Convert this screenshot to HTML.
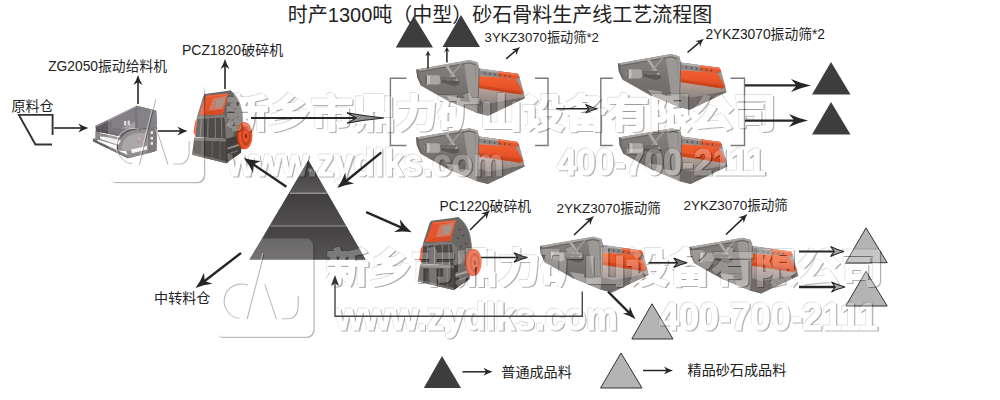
<!DOCTYPE html>
<html><head><meta charset="utf-8"><title>flow</title>
<style>html,body{margin:0;padding:0;background:#fff;font-family:"Liberation Sans",sans-serif}svg{display:block}</style>
</head><body>
<svg width="1000" height="400" viewBox="0 0 1000 400">
<rect width="1000" height="400" fill="#fff"/>
<defs>
<linearGradient id="gSide" x1="0" y1="0" x2="0" y2="1">
  <stop offset="0" stop-color="#878380"/><stop offset="0.5" stop-color="#777370"/><stop offset="1" stop-color="#66625f"/>
</linearGradient>
<linearGradient id="gOr" x1="0" y1="0" x2="0" y2="1">
  <stop offset="0" stop-color="#f2612f"/><stop offset="0.6" stop-color="#e85328"/><stop offset="1" stop-color="#d0461f"/>
</linearGradient>
<linearGradient id="gFront" x1="0" y1="0" x2="0" y2="1">
  <stop offset="0" stop-color="#a9a19e"/><stop offset="1" stop-color="#7f7976"/>
</linearGradient>
<linearGradient id="gDeck" x1="0" y1="0" x2="0" y2="1"><stop offset="0" stop-color="#bfa196"/><stop offset="0.5" stop-color="#a2938d"/><stop offset="1" stop-color="#8d8582"/></linearGradient>
<g id="screen">
  <!-- side face -->
  <polygon points="0,0 53.4,-9.3 61.3,-7 63,-0.9 62.6,20 61.3,43.7 34.1,32.4 4.4,15.7 0.9,7.9" fill="url(#gSide)"/>
  <!-- front face -->
  <polygon points="63,-0.9 101.5,4.4 103.3,7.9 107.6,23.6 108.5,28.9 71.8,46.4 61.3,43.7 62.6,20" fill="url(#gFront)"/>
  <!-- lower foot on side -->
  <polygon points="30,26 44,28 44,31.5 52,32.5 62,33 61.3,43.7 34.1,32.4" fill="#a29e9b"/>
  <polygon points="61.3,43.7 71.8,46.4 73,34 62,31" fill="#6f6a67"/>
  <!-- grid below deck -->
  <polygon points="73,34 108.3,27.5 108.5,28.9 71.8,46.4" fill="#746e6b"/>
  <g stroke="#6b6664" stroke-width="0.7">
    <line x1="80" y1="28" x2="80" y2="42"/><line x1="88" y1="27" x2="88" y2="38.5"/><line x1="96" y1="27" x2="96" y2="34.7"/><line x1="103" y1="27" x2="103" y2="31.4"/>
  </g>
  <!-- deck light -->
  <polygon points="62.3,18.7 104.2,25 108.3,27.5 73,34 62,31" fill="url(#gDeck)"/>
  <!-- orange chute -->
  <polygon points="60.5,6.6 99.3,9.3 107.3,23.3 104.2,25.2 62.1,18.7" fill="url(#gOr)"/>
  <polygon points="62.1,15.6 103,22 104.2,25.2 62.1,18.7" fill="#c2411d" opacity="0.7"/>
  <!-- top rail of front -->
  <polygon points="63,-0.9 101.5,4.4 103.3,7.9 102.2,10 63,5.6" fill="#8a8685"/>
  <polygon points="63,-0.9 101.5,4.4 102.2,6 63,1" fill="#b4b1af"/>
  <polygon points="82,2 101.5,4.4 103.3,7.9 99.5,9.6 82,7.6" fill="#e5562b"/><polygon points="82,2 101.5,4.4 102.2,6 82,3.5" fill="#f27a52"/>
  <g fill="#55514f"><rect x="68" y="3" width="1.2" height="2.2"/><rect x="73" y="3.6" width="1.2" height="2.2"/><rect x="78" y="4.2" width="1.2" height="2.2"/><rect x="83" y="4.8" width="1.2" height="2.2"/><rect x="88" y="5.4" width="1.2" height="2.2"/><rect x="93" y="6" width="1.2" height="2.2"/></g>
  <!-- corner post -->
  <polygon points="47.5,-8.3 58.5,-7.8 61.5,43.7 54.5,40.8" fill="#a19d9a" opacity="0.85"/>
  <polygon points="58.5,-7.8 61.3,-7 63,-0.9 62.6,20 61.3,43.7 58.8,43 59.5,20 59.6,0" fill="#9b9794"/>
  <line x1="63" y1="-0.9" x2="61.3" y2="43.7" stroke="#5f5b59" stroke-width="0.8"/>
  <!-- top rail side -->
  <polygon points="0,0 53.4,-9.3 61.3,-7 61.3,-5 53.4,-7.2 0.4,2.2" fill="#a9a6a4"/>
  <polygon points="0.4,2.2 53.4,-7.2 59.5,-5.5 59.5,-4 53.4,-5.8 0.6,3.6" fill="#6e6a68"/>
  <!-- diagonal brace -->
  <polygon points="29,-3.5 32,-4 43,13 40.5,13.5" fill="#aeaaa7"/>
  <polygon points="44,-6 46.5,-6.5 30,14 27.5,13.5" fill="#a29e9b" opacity="0.8"/>
  <!-- motor -->
  <rect x="8.7" y="5.8" width="15.5" height="9.4" rx="3" fill="#a9a6a4"/>
  <rect x="8.7" y="5.8" width="5" height="9.4" rx="2.4" fill="#c4c2c0"/>
  <rect x="8.7" y="5.8" width="2" height="9.4" rx="1" fill="#6b6765"/>
  <rect x="24" y="7.6" width="16" height="2.6" fill="#6f6b69"/>
  <polygon points="25,10.5 43,11.5 43,15 38,16.5 25,13" fill="#5c5856"/>
  <!-- left end -->
  <polygon points="0,0 0.9,7.9 4.4,15.7 6,15 3,7.5 2.4,0.5" fill="#6a6664"/>
  <line x1="4.4" y1="15.7" x2="34.1" y2="32.4" stroke="#65615f" stroke-width="0.8"/>
</g>

<linearGradient id="gCr" x1="0" y1="0" x2="1" y2="0">
  <stop offset="0" stop-color="#6a6664"/><stop offset="0.6" stop-color="#5a5654"/><stop offset="1" stop-color="#4a4644"/>
</linearGradient>
<g id="crusher">
  <!-- housing (right, rounded) -->
  <path d="M22,-2.6 L27,-3.4 C33,1 37.5,8 39.2,18 C40.2,24 40.4,30 40.4,42.7 L38.2,58.4 L22.5,69.2 L20.9,21.3 Z" fill="#5a5654"/>
  <path d="M24.5,0 L27,-3.4 C33,1 37.5,8 39.2,18 C40.2,24 40.4,30 40.4,36 L30,40 L24,36 L20.9,21.3 Z" fill="#6a6664"/>
  <path d="M27,-3.4 C33,1 37.5,8 39.2,18 C40.2,24 40.4,30 40.4,36" fill="none" stroke="#8a8684" stroke-width="0.8"/>
  <g fill="#4e4a48"><rect x="27" y="8" width="2" height="1.6"/><rect x="31" y="14" width="2.2" height="1.6"/><rect x="26" y="17" width="1.8" height="1.6"/><rect x="33.5" y="22" width="2" height="1.8"/><rect x="28.5" y="25" width="2.2" height="1.8"/><rect x="24.5" y="29" width="2" height="1.6"/><rect x="33" y="31" width="2" height="1.8"/></g>
  <!-- hopper outer -->
  <polygon points="0,0 27,-3.4 27.6,-1.5 20.9,21.3 -8.3,22.9 -1.6,2" fill="#6b6765"/>
  <!-- hopper interior -->
  <polygon points="1.1,1.8 24.7,-0.4 19.1,20.2 -6.1,21.3" fill="#e6542b"/>
  <polygon points="8.5,4.2 23.6,1.2 18.6,15.2 4.5,16.8" fill="#cf7a63"/>
  <polygon points="12,6 21.5,4 18.5,12.5 11.5,13.5" fill="#a8948c"/>
  <polygon points="4.5,16.8 18.6,15.2 19.1,20.2 -6.1,21.3" fill="#d94c25"/>
  <polygon points="1.1,1.8 24.7,-0.4 24.3,1 1.5,3" fill="#f06a3e"/>
  <!-- body under hopper -->
  <polygon points="-8.3,22.9 20.9,21.3 22.5,44.9 -10.1,43.1" fill="#4f4b49"/>
  <polygon points="-8.3,22.9 20.9,21.3 21,23.6 -8.5,25.2" fill="#7d7977"/>
  <g stroke="#807c7a" stroke-width="1.1"><line x1="-3.5" y1="25" x2="-5" y2="43.4"/><line x1="3.5" y1="24.6" x2="3" y2="43.8"/><line x1="11" y1="24.2" x2="11.3" y2="44.2"/><line x1="17.5" y1="23.8" x2="18.2" y2="44.6"/></g>
  <polygon points="20.9,21.3 22.5,44.9 28,46.5 31,40 25.5,26" fill="#7a7674"/>
  <polygon points="-10.4,28 -8.5,24.5 -9.4,42.5 -12,38.5" fill="#e5532a"/>
  <!-- base -->
  <polygon points="-11.2,43.8 22.5,44.9 38.2,41 38.2,58.4 22.5,69.2 -13.5,60.7" fill="#4e4a48"/>
  <polygon points="-11.2,43.8 22.5,44.9 22.6,47.6 -11.5,46.4" fill="#7e7a78"/>
  <polygon points="22.5,44.9 38.2,41 38.2,58.4 22.5,69.2" fill="#423e3c"/>
  <polygon points="24,53.5 37,49.6 37,51.8 24,55.7" fill="#8c8785"/>
  <polygon points="24,59.5 35,55.8 35,57.5 24,61.2" fill="#6f6a68"/>
  <polygon points="-13.5,60.7 22.5,69.2 22.5,67.2 -13.3,58.8" fill="#716d6b"/>
  <g stroke="#6e6a68" stroke-width="0.9"><line x1="-2" y1="47" x2="-3.5" y2="62.5"/><line x1="8" y1="47.2" x2="7.5" y2="65"/><line x1="16" y1="47.4" x2="16" y2="67"/></g>
  <!-- wheel -->
  <ellipse cx="41.2" cy="41.6" rx="7.6" ry="13.6" fill="#b4391a"/>
  <ellipse cx="43" cy="41.6" rx="7.4" ry="13.3" fill="#e9562c"/>
  <ellipse cx="43.3" cy="41.8" rx="5" ry="9.8" fill="#c7401e"/>
  <ellipse cx="43.5" cy="41.9" rx="3.3" ry="6.6" fill="#e9562c"/>
  <ellipse cx="43.6" cy="42" rx="1.3" ry="2.5" fill="#8f2e16"/>
  <g stroke="#b4391a" stroke-width="0.8"><line x1="43.5" y1="32" x2="43.5" y2="35.5"/><line x1="43.5" y1="48.3" x2="43.5" y2="51.6"/><line x1="38.6" y1="41.9" x2="40.3" y2="41.9"/><line x1="46.7" y1="41.9" x2="48.2" y2="41.9"/></g>
</g>

<g id="feeder">
  <!-- frame base -->
  <polygon points="92.9,138.5 97.5,138.5 97.5,141 128,155 154.8,148.6 154.8,151.4 127.8,158.3 92.9,141.3" fill="#7a7576"/>
  <polygon points="92.9,139.8 127.8,156.6 154.8,149.8 154.8,151.4 127.8,158.3 92.9,141.3" fill="#5f5a5b"/>
  <!-- right column -->
  <polygon points="147.3,127 157,125.5 156.8,150.8 147.3,153.2" fill="#625d60"/>
  <rect x="150.6" y="131.2" width="2.4" height="2.8" fill="#e2e0e1"/><rect x="150.6" y="136.8" width="2.4" height="2.8" fill="#e2e0e1"/><rect x="150.6" y="142" width="2.4" height="2.8" fill="#e2e0e1"/>
  <!-- left leg -->
  <polygon points="95.3,130.5 100.2,131.2 100.2,140.5 95.3,139" fill="#8b8788"/>
  <polygon points="100.2,138.6 119,144.6 119,146.2 100.2,140.3" fill="#8b8788"/>
  <!-- arch / motor guard -->
  <path d="M117.2,149.5 C117.5,138.5 124,130.8 135,129.3 L147.3,128.4 L147.3,153.2 L128.5,157.2 L126,151 L118,150.5 Z" fill="#7b7678"/>
  <path d="M121.5,149 C122,140.5 127.5,134.5 136.5,133.5 L146,133 L146,147 L131,151 L125,150.5 Z" fill="#999496"/>
  <path d="M117.2,149.5 C117.5,138.5 124,130.8 135,129.3 L147.3,128.4" fill="none" stroke="#3f3b3d" stroke-width="1.3"/>
  <rect x="136.5" y="135.5" width="5.2" height="8.5" fill="#9a8c8e"/>
  <rect x="137.8" y="137" width="2.6" height="3" fill="#b7a3a3"/>
  <polygon points="131,149.6 147,146 147,149.6 132,153.2" fill="#f4f3f3"/>
  <polygon points="101.5,139.6 118.6,144.8 121,140.5 106,137" fill="#f1f0f0"/><polygon points="100.2,133 120,137.5 121,140.5 106,137 100.2,136.5" fill="#8e8a8c"/>
  <!-- trough body -->
  <polygon points="95.3,126 136.7,105.7 156.2,110.6 157,125 148.7,127.6 130,130 120.5,136.5 96.1,131.2" fill="#5d5960"/>
  <polygon points="136.7,105.7 156.2,110.6 157,125 148.7,127.6 137,129" fill="#6a666e"/>
  <polygon points="95.3,126 136.7,105.7 138.5,106.3 97.2,126.8" fill="#8c888d"/>
  <polygon points="96.1,128.4 120,134 120.5,136.5 96.1,131.2" fill="#55515a"/>
  <polygon points="112,120 134.5,109.5 135,121.5 121,128.5 112,128" fill="#69656c"/>
  <polygon points="121,128.5 135,121.5 135,129" fill="#908c90"/>
  <rect x="124" y="121" width="2.3" height="4.5" fill="#d2d0d2"/><rect x="127.6" y="120.6" width="2.3" height="4.5" fill="#d2d0d2"/>
  <line x1="136.7" y1="105.7" x2="137" y2="129" stroke="#57535a" stroke-width="0.8"/>
</g>

<filter id="wblur" x="-5%" y="-5%" width="110%" height="110%"><feGaussianBlur stdDeviation="0.4"/></filter>
<g id="lgl" fill="none" stroke-linecap="round"><path d="M247.5 285 A17.3 17.3 0 1 0 238.8 318.3"/><path d="M263.8 254.4 L247.2 318.7"/><path d="M264.8 284.7 L276.2 318.7"/><path d="M298.1 296 V306 Q298.1 318.7 287 318.7 H282"/></g>
<rect id="lgb" x="214.7" y="238.6" width="98.7" height="98.1" rx="7.5" ry="7.5"/>
<mask id="lgmask" maskUnits="userSpaceOnUse" x="200" y="220" width="140" height="140"><rect x="200" y="220" width="140" height="140" fill="#fff"/><use href="#lgb" fill="#000"/></mask>
<g id="logo"><g mask="url(#lgmask)"><use href="#lgb" transform="translate(1.3 1.3)" fill="#000" fill-opacity="0.27"/></g><use href="#lgb" fill="#fff" fill-opacity="0.18"/><use href="#lgl" stroke="#000" stroke-opacity="0.3" stroke-width="1.1"/><use href="#lgl" stroke="#fff" stroke-opacity="0.45" stroke-width="1.2" transform="translate(-1.1 -0.7)"/></g>
<g id="wsA" fill="currentColor" stroke="currentColor" stroke-linejoin="round" font-weight="bold" font-family="&quot;Liberation Sans&quot;, &quot;Noto Sans CJK SC&quot;, sans-serif"><text x="226.1" y="126.6" font-size="38.1" stroke-width="1.8" textLength="550" lengthAdjust="spacingAndGlyphs">新乡市鼎力矿山设备有限公司</text><text x="227.6" y="175.6" font-size="38" stroke-width="1.1" textLength="276" lengthAdjust="spacingAndGlyphs">www.zydlks.com</text><text x="557.5" y="175.1" font-size="37.4" stroke-width="1.1" textLength="208" lengthAdjust="spacingAndGlyphs">400-700-2111</text></g>
<mask id="wmkA" maskUnits="userSpaceOnUse" x="0" y="0" width="1000" height="400"><rect width="1000" height="400" fill="#fff"/><use href="#wsA" color="#000"/></mask>
<g id="wmA"><g mask="url(#wmkA)"><use href="#wsA" transform="translate(1.3 1.3)" color="#000" opacity="0.3" filter="url(#wblur)"/><use href="#wsA" transform="translate(-0.8 -0.8)" color="#000" opacity="0.12"/></g><use href="#wsA" color="#fff" opacity="0.24"/></g>
<g id="wsB" fill="currentColor" stroke="currentColor" stroke-linejoin="round" font-weight="bold" font-family="&quot;Liberation Sans&quot;, &quot;Noto Sans CJK SC&quot;, sans-serif"><text x="326.1" y="282" font-size="39.7" stroke-width="1.8" textLength="557" lengthAdjust="spacingAndGlyphs">新乡市鼎力矿山设备有限公司</text><text x="335.6" y="330.1" font-size="38" stroke-width="1.1" textLength="282" lengthAdjust="spacingAndGlyphs">www.zydlks.com</text><text x="659" y="329.6" font-size="38.1" stroke-width="1.1" textLength="219" lengthAdjust="spacingAndGlyphs">400-700-2111</text></g>
<mask id="wmkB" maskUnits="userSpaceOnUse" x="0" y="0" width="1000" height="400"><rect width="1000" height="400" fill="#fff"/><use href="#wsB" color="#000"/></mask>
<g id="wmB"><g mask="url(#wmkB)"><use href="#wsB" transform="translate(1.3 1.3)" color="#000" opacity="0.3" filter="url(#wblur)"/><use href="#wsB" transform="translate(-0.8 -0.8)" color="#000" opacity="0.12"/></g><use href="#wsB" color="#fff" opacity="0.24"/></g>

</defs>
<path d="M406.4 78.2 H390.4 V145.5 H406.4" fill="none" stroke="#7a7a7a" stroke-width="1.4"/><path d="M535.0 78.2 H548.0 V145.5 H535.0" fill="none" stroke="#7a7a7a" stroke-width="1.4"/>
<path d="M612.8 78.2 H600.8 V145.5 H612.8" fill="none" stroke="#7a7a7a" stroke-width="1.4"/><path d="M730.5 78.2 H744.5 V145.5 H730.5" fill="none" stroke="#7a7a7a" stroke-width="1.4"/>
<g>
<linearGradient id="bt1" x1="0" y1="160" x2="0" y2="193" gradientUnits="userSpaceOnUse"><stop offset="0" stop-color="#3c3a3a"/><stop offset="1" stop-color="#595757"/></linearGradient>
<linearGradient id="bt2" x1="0" y1="194" x2="0" y2="226" gradientUnits="userSpaceOnUse"><stop offset="0" stop-color="#403e3e"/><stop offset="1" stop-color="#504e4e"/></linearGradient>
<linearGradient id="bt3" x1="0" y1="227" x2="0" y2="259.5" gradientUnits="userSpaceOnUse"><stop offset="0" stop-color="#444242"/><stop offset="1" stop-color="#555353"/></linearGradient>
<polygon points="308.3,160.3 365.5,259.5 249.5,259.5" fill="#474545"/>
<polygon points="308.3,160.3 327.3,193.3 289.3,193.3" fill="url(#bt1)"/>
<polygon points="289.3,193.3 327.3,193.3 346.2,226 270.4,226" fill="url(#bt2)"/>
<polygon points="270.4,226 346.2,226 365.5,259.5 249.5,259.5" fill="url(#bt3)"/>
<line x1="289.6" y1="193.3" x2="327" y2="193.3" stroke="#8f8d8d" stroke-width="1.4"/>
<line x1="270.6" y1="226" x2="346" y2="226" stroke="#7f7d7d" stroke-width="1.4"/>
<rect x="307.8" y="168.3" width="4" height="3.2" fill="#777"/>
</g>

<use href="#feeder" x="0" y="0"/>
<use href="#crusher" transform="translate(204.8 94) scale(0.945 1.0)"/>
<use href="#crusher" transform="translate(431.3 220.7)"/>
<use href="#screen" x="416.3" y="69.4"/>
<use href="#screen" x="416.0" y="137.5"/>
<use href="#screen" x="617.9" y="63.4"/>
<use href="#screen" x="618.8" y="137.5"/>
<use href="#screen" x="540.0" y="246.0"/>
<use href="#screen" x="689.5" y="247.0"/>
<polygon points="413.8,16.0 433.0,47.5 395.8,47.5" fill="#3d3d3d"/>
<polygon points="461.0,15.0 480.0,47.0 442.5,47.0" fill="#3d3d3d"/>
<polygon points="831.0,62.0 850.5,94.5 812.0,94.5" fill="#3d3d3d"/>
<polygon points="831.0,102.0 850.5,134.5 812.0,134.5" fill="#3d3d3d"/>
<polygon points="442.0,356.0 461.0,388.0 423.8,388.0" fill="#3d3d3d"/>
<polygon points="866.0,227.9 887.2,262.7 845.8,262.7" fill="#b4b4b4" stroke="#333" stroke-width="1" stroke-linejoin="miter"/>
<polygon points="866.0,271.3 887.2,306.0 845.8,306.0" fill="#b4b4b4" stroke="#333" stroke-width="1" stroke-linejoin="miter"/>
<polygon points="652.0,303.8 673.0,339.0 631.8,339.0" fill="#b4b4b4" stroke="#333" stroke-width="1" stroke-linejoin="miter"/>
<polygon points="621.0,353.0 642.0,388.0 600.5,388.0" fill="#b4b4b4" stroke="#333" stroke-width="1" stroke-linejoin="miter"/>
<use href="#logo" transform="matrix(0.9726 0 0 0.9990 -100.83 -154.36)"/><use href="#wmA"/><use href="#logo"/><use href="#wmB"/>
<path d="M52.6 134.9 V114.9 H18.9 L35.4 144.5 H52" fill="none" stroke="#333" stroke-width="1.9" stroke-linejoin="miter"/>
<line x1="54.0" y1="128.0" x2="81.7" y2="128.0" stroke="#262626" stroke-width="1.60"/><path d="M88.4 128.0Q83.4 129.5 78.4 132.5L81.2 128.0L78.4 123.5Q83.4 126.5 88.4 128.0Z" fill="#262626"/>
<line x1="158.0" y1="131.0" x2="180.8" y2="131.0" stroke="#262626" stroke-width="1.60"/><path d="M187.5 131.0Q182.5 132.5 177.5 135.5L180.3 131.0L177.5 126.5Q182.5 129.5 187.5 131.0Z" fill="#262626"/>
<line x1="138.0" y1="104.0" x2="138.0" y2="81.7" stroke="#262626" stroke-width="1.60"/><path d="M138.0 75.0Q139.5 80.0 142.5 85.0L138.0 82.2L133.5 85.0Q136.5 80.0 138.0 75.0Z" fill="#262626"/>
<line x1="225.0" y1="89.0" x2="225.0" y2="65.7" stroke="#262626" stroke-width="1.60"/><path d="M225.0 59.0Q226.5 64.0 229.5 69.0L225.0 66.2L220.5 69.0Q223.5 64.0 225.0 59.0Z" fill="#262626"/>
<line x1="251.0" y1="118.0" x2="356.8" y2="118.0" stroke="#262626" stroke-width="1.80"/><path d="M384.0 118.0Q365.5 119.7 347.0 123.2L356.2 118.0L347.0 112.8Q365.5 116.3 384.0 118.0Z" fill="#8c8c8c" stroke="#262626" stroke-width="1.1" stroke-linejoin="miter"/>
<line x1="381.3" y1="152.4" x2="345.9" y2="181.2" stroke="#262626" stroke-width="2.40"/><path d="M337.3 188.1Q342.1 181.3 345.3 172.6L346.2 180.8L354.1 183.5Q344.9 184.8 337.3 188.1Z" fill="#262626"/>
<line x1="286.4" y1="186.8" x2="252.9" y2="164.1" stroke="#262626" stroke-width="2.40"/><path d="M243.8 157.9Q251.7 160.5 261.0 161.1L253.3 164.4L253.1 172.7Q249.1 164.3 243.8 157.9Z" fill="#262626"/>
<line x1="366.2" y1="212.1" x2="401.5" y2="227.7" stroke="#262626" stroke-width="2.40"/><path d="M411.6 232.2Q403.4 231.0 394.1 232.1L401.1 227.5L399.8 219.3Q405.2 226.9 411.6 232.2Z" fill="#262626"/>
<line x1="241.0" y1="253.0" x2="204.3" y2="281.3" stroke="#262626" stroke-width="2.40"/><path d="M195.6 288.0Q200.5 281.3 204.0 272.7L204.7 281.0L212.5 283.8Q203.3 284.9 195.6 288.0Z" fill="#262626"/>
<line x1="556.2" y1="108.8" x2="589.4" y2="108.8" stroke="#262626" stroke-width="1.60"/><path d="M597.5 108.8Q591.5 110.1 585.5 113.0L588.9 108.8L585.5 104.5Q591.5 107.4 597.5 108.8Z" fill="#777" stroke="#262626" stroke-width="1.1" stroke-linejoin="miter"/>
<line x1="745.0" y1="85.4" x2="797.1" y2="85.4" stroke="#262626" stroke-width="2.20"/><path d="M811.0 85.4Q801.0 87.5 791.0 91.9L796.6 85.4L791.0 78.9Q801.0 83.3 811.0 85.4Z" fill="#262626"/>
<line x1="745.0" y1="120.6" x2="794.8" y2="120.6" stroke="#262626" stroke-width="2.20"/><path d="M808.0 120.6Q798.5 122.7 789.0 127.1L794.3 120.6L789.0 114.1Q798.5 118.5 808.0 120.6Z" fill="#262626"/>
<line x1="481.0" y1="257.5" x2="518.3" y2="257.5" stroke="#262626" stroke-width="1.70"/><path d="M527.5 257.5Q520.8 259.0 514.0 262.2L517.8 257.5L514.0 252.8Q520.8 256.0 527.5 257.5Z" fill="#666" stroke="#262626" stroke-width="1.1" stroke-linejoin="miter"/>
<line x1="648.8" y1="262.8" x2="678.0" y2="262.8" stroke="#262626" stroke-width="1.70"/><path d="M687.2 262.8Q680.5 264.3 673.7 267.6L677.5 262.8L673.7 258.1Q680.5 261.3 687.2 262.8Z" fill="#777" stroke="#262626" stroke-width="1.1" stroke-linejoin="miter"/>
<line x1="799.0" y1="251.5" x2="834.8" y2="251.5" stroke="#262626" stroke-width="1.80"/><path d="M844.0 251.5Q837.2 253.1 830.5 256.5L834.3 251.5L830.5 246.5Q837.2 249.9 844.0 251.5Z" fill="#a8a8a8" stroke="#262626" stroke-width="1.1" stroke-linejoin="miter"/>
<line x1="799.0" y1="287.0" x2="835.8" y2="287.0" stroke="#262626" stroke-width="2.30"/><path d="M845.0 287.0Q838.2 288.6 831.5 292.0L835.3 287.0L831.5 282.0Q838.2 285.4 845.0 287.0Z" fill="#a8a8a8" stroke="#262626" stroke-width="1.1" stroke-linejoin="miter"/>
<line x1="608.0" y1="291.6" x2="629.3" y2="312.9" stroke="#262626" stroke-width="2.20"/><path d="M635.6 319.2Q629.9 315.8 622.9 313.5L629.0 312.6L629.9 306.5Q632.2 313.5 635.6 319.2Z" fill="#262626"/>
<line x1="470.0" y1="230.0" x2="485.8" y2="214.2" stroke="#262626" stroke-width="1.60"/><path d="M490.0 210.0Q487.7 214.1 486.5 219.2L485.4 214.6L480.8 213.5Q485.9 212.3 490.0 210.0Z" fill="#262626"/>
<line x1="574.0" y1="235.0" x2="589.7" y2="220.1" stroke="#262626" stroke-width="1.60"/><path d="M594.0 216.0Q591.6 220.0 590.2 225.1L589.3 220.5L584.7 219.3Q589.8 218.2 594.0 216.0Z" fill="#262626"/>
<line x1="726.0" y1="234.5" x2="743.2" y2="218.1" stroke="#262626" stroke-width="1.60"/><path d="M747.5 214.0Q745.1 218.0 743.7 223.1L742.8 218.5L738.2 217.3Q743.3 216.2 747.5 214.0Z" fill="#262626"/>
<line x1="462.5" y1="371.8" x2="486.5" y2="371.8" stroke="#262626" stroke-width="1.50"/><path d="M492.5 371.8Q488.0 373.1 483.5 375.8L486.0 371.8L483.5 367.8Q488.0 370.4 492.5 371.8Z" fill="#262626"/>
<line x1="643.0" y1="370.5" x2="667.0" y2="370.5" stroke="#262626" stroke-width="1.50"/><path d="M673.0 370.5Q668.5 371.8 664.0 374.5L666.5 370.5L664.0 366.5Q668.5 369.2 673.0 370.5Z" fill="#262626"/>
<line x1="506.2" y1="58.8" x2="516.0" y2="50.4" stroke="#262626" stroke-width="1.60"/><path d="M520.0 47.0Q517.8 50.5 516.4 55.0L515.6 50.7L511.5 49.3Q516.2 48.7 520.0 47.0Z" fill="#262626"/>
<line x1="687.5" y1="52.5" x2="699.7" y2="42.1" stroke="#262626" stroke-width="1.60"/><path d="M703.8 38.8Q701.5 42.3 700.1 46.8L699.4 42.5L695.2 41.1Q699.9 40.4 703.8 38.8Z" fill="#262626"/>
<line x1="428.0" y1="68.5" x2="428.0" y2="54.0" stroke="#262626" stroke-width="1.50"/><path d="M428.0 50.5Q428.9 53.2 430.8 56.0L428.0 54.5L425.2 56.0Q427.1 53.2 428.0 50.5Z" fill="#262626"/>
<line x1="446.9" y1="62.5" x2="446.9" y2="50.1" stroke="#262626" stroke-width="1.50"/><path d="M446.9 46.6Q447.8 49.4 449.6 52.1L446.9 50.6L444.1 52.1Q446.0 49.4 446.9 46.6Z" fill="#262626"/>
<path d="M582.3 291.6 V316.3 H335 V284" fill="none" stroke="#444" stroke-width="1.4"/>
<polygon points="335,275 331,286 335,283.5 339,286" fill="#333"/>
<g fill="#222" font-family="&quot;Liberation Sans&quot;, &quot;Noto Sans CJK SC&quot;, sans-serif">
<text x="287.8" y="21.6" font-size="20">时产1300吨（中型）砂石骨料生产线工艺流程图</text>
<text x="48.2" y="71.4" font-size="13.8">ZG2050振动给料机</text>
<text x="182" y="54.9" font-size="14">PCZ1820破碎机</text>
<text x="11.5" y="111.1" font-size="14">原料仓</text>
<text x="484.6" y="42" font-size="13.2">3YKZ3070振动筛*2</text>
<text x="705.4" y="39.4" font-size="13.8">2YKZ3070振动筛*2</text>
<text x="439.4" y="211.4" font-size="13.9">PC1220破碎机</text>
<text x="556.4" y="213" font-size="13.5">2YKZ3070振动筛</text>
<text x="683.4" y="210" font-size="13.5">2YKZ3070振动筛</text>
<text x="154.1" y="303.3" font-size="14.1">中转料仓</text>
<text x="501.3" y="376.8" font-size="14.1">普通成品料</text>
<text x="687.6" y="375.3" font-size="14.1">精品砂石成品料</text>
</g>
</svg>
</body></html>
